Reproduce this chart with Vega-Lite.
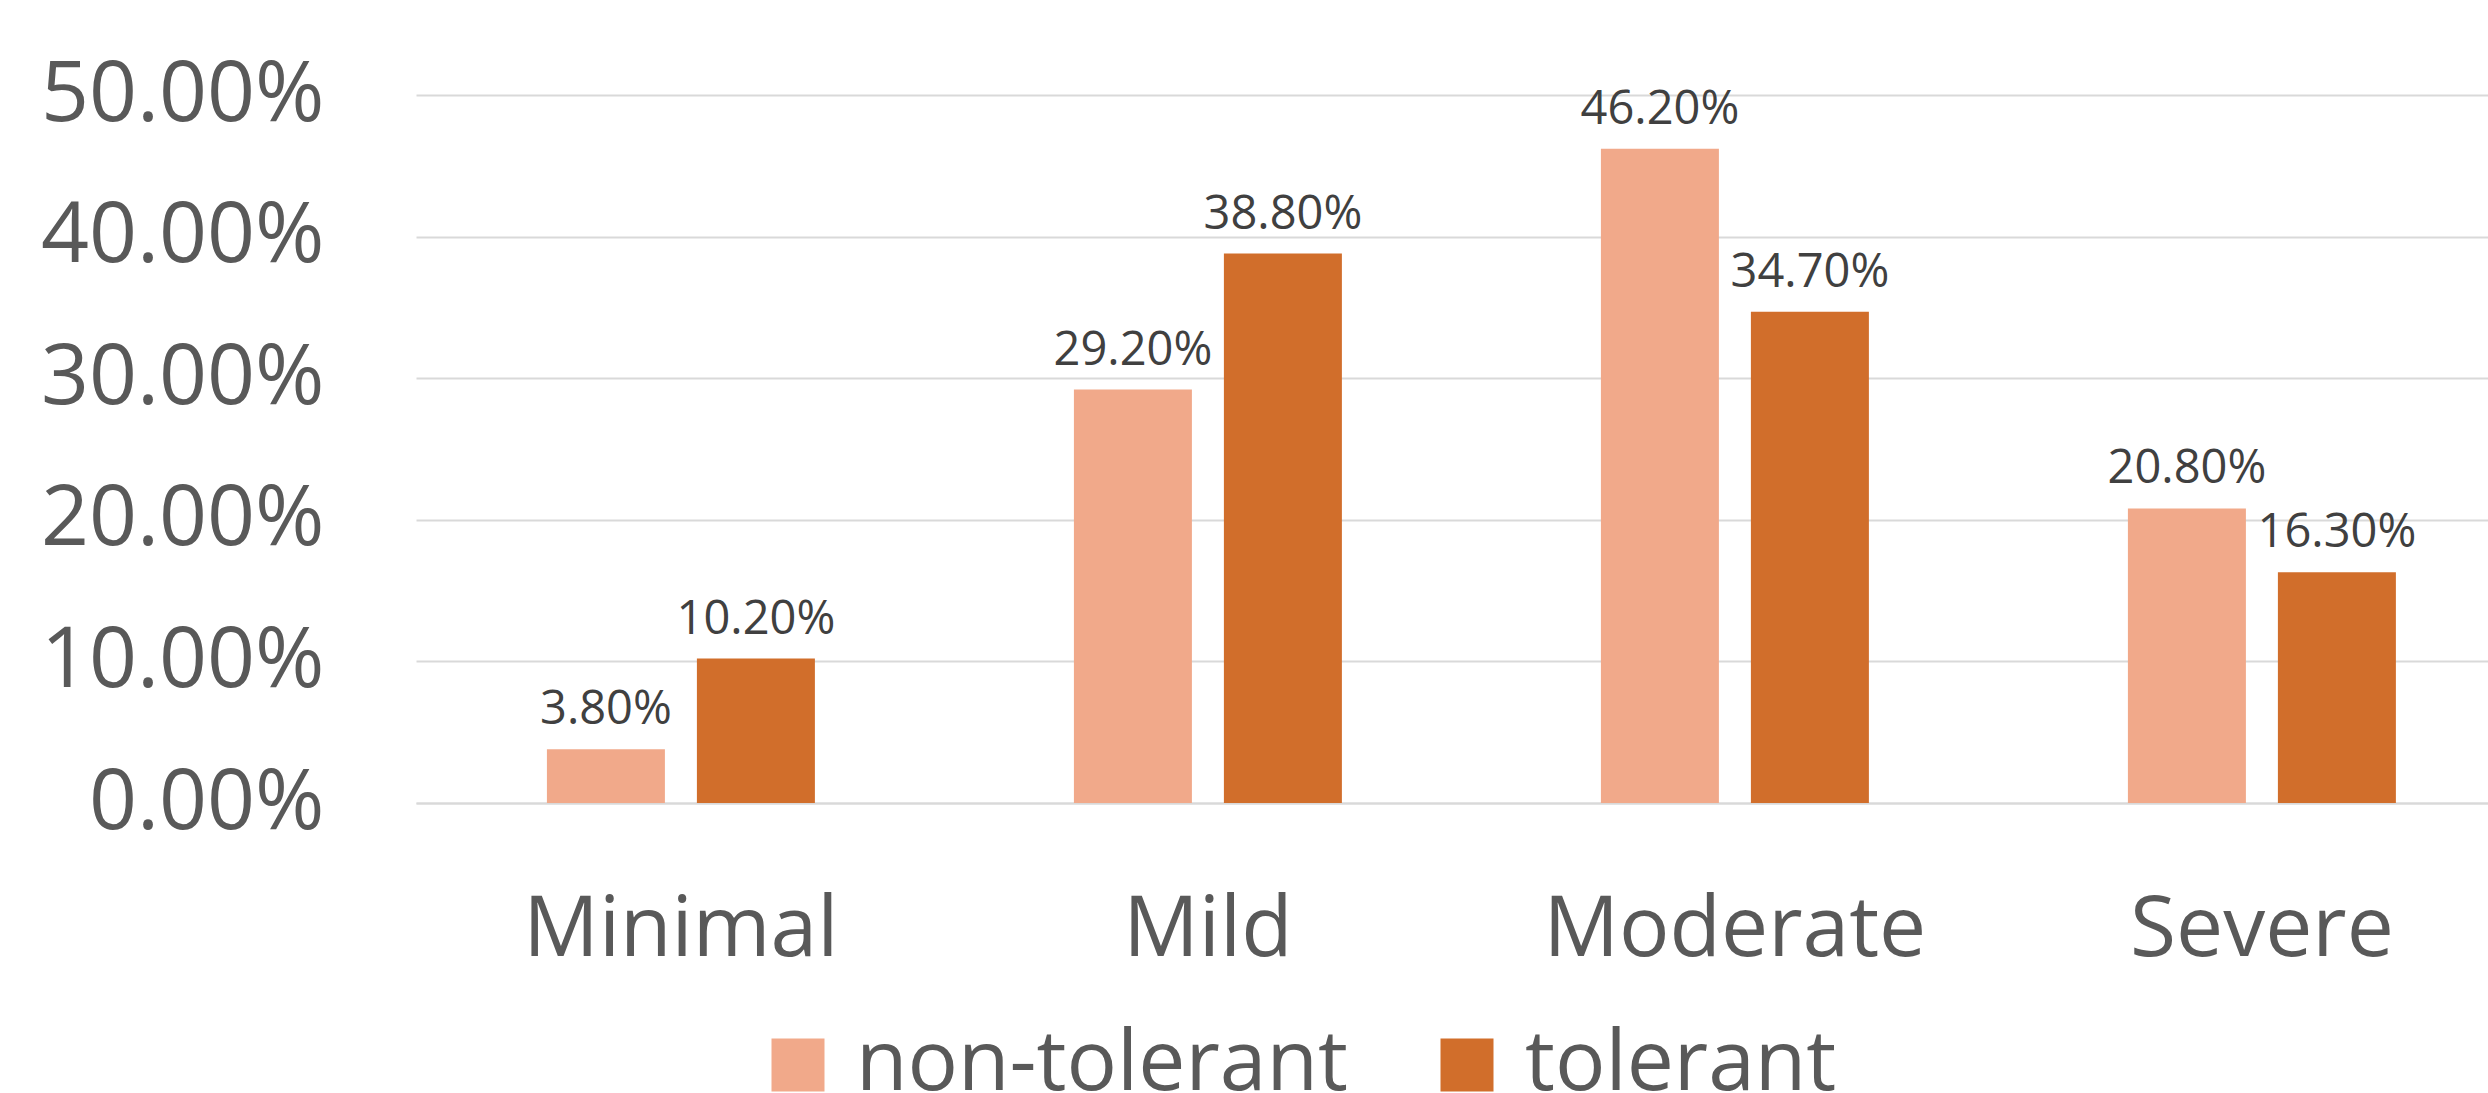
{
  "$schema": "https://vega.github.io/schema/vega-lite/v6.json",
  "autosize": {"type": "none"},
  "width": 2072,
  "height": 708,
  "padding": {"left": 416, "top": 95, "right": 0, "bottom": 290},
  "background": "white",
  "config": {"view": {"stroke": null}, "font": "Open Sans"},
  "data": {
    "values": [
      {"severity": "Minimal", "group": "non-tolerant", "value": 0.038},
      {"severity": "Minimal", "group": "tolerant", "value": 0.102},
      {"severity": "Mild", "group": "non-tolerant", "value": 0.292},
      {"severity": "Mild", "group": "tolerant", "value": 0.388},
      {"severity": "Moderate", "group": "non-tolerant", "value": 0.462},
      {"severity": "Moderate", "group": "tolerant", "value": 0.347},
      {"severity": "Severe", "group": "non-tolerant", "value": 0.208},
      {"severity": "Severe", "group": "tolerant", "value": 0.163}
    ]
  },
  "encoding": {
    "x": {
      "field": "severity",
      "type": "nominal",
      "sort": ["Minimal", "Mild", "Moderate", "Severe"],
      "scale": {"paddingInner": 0.4915, "paddingOuter": 0.2116, "align": 0.587},
      "axis": {
        "title": null,
        "labelAngle": 0,
        "labelFont": "Open Sans",
        "labelFontSize": 84,
        "labelColor": "#595959",
        "labelBaseline": "alphabetic",
        "labelPadding": 152,
        "labelLimit": 2000,
        "ticks": false,
        "tickSize": 0,
        "domainColor": "#d9d9d9",
        "domainWidth": 2
      }
    },
    "xOffset": {
      "field": "group",
      "type": "nominal",
      "sort": ["non-tolerant", "tolerant"],
      "scale": {"paddingInner": 0.2133, "paddingOuter": 0}
    },
    "y": {
      "field": "value",
      "type": "quantitative",
      "scale": {"domain": [0, 0.5]},
      "axis": {
        "title": null,
        "values": [0, 0.1, 0.2, 0.3, 0.4, 0.5],
        "format": ".2%",
        "labelFont": "Open Sans",
        "labelFontSize": 84,
        "labelColor": "#595959",
        "labelPadding": 92,
        "labelLimit": 2000,
        "ticks": false,
        "tickSize": 0,
        "domain": false,
        "grid": true,
        "gridColor": "#d9d9d9",
        "gridWidth": 2
      }
    }
  },
  "layer": [
    {
      "mark": {"type": "bar"},
      "encoding": {
        "color": {
          "field": "group",
          "type": "nominal",
          "sort": ["non-tolerant", "tolerant"],
          "scale": {"domain": ["non-tolerant", "tolerant"], "range": ["#F1A98A", "#D16E2B"]},
          "legend": {
            "title": null,
            "orient": "none",
            "direction": "horizontal",
            "legendX": 340,
            "legendY": 928,
            "symbolType": "square",
            "symbolSize": 2809,
            "symbolStrokeWidth": 0,
            "symbolOpacity": 1,
            "labelFont": "Open Sans",
            "labelFontSize": 84,
            "labelColor": "#595959",
            "labelOffset": 16,
            "labelLimit": 1000,
            "columnPadding": 77,
            "padding": 0
          }
        }
      }
    },
    {
      "mark": {"type": "text", "baseline": "alphabetic", "dy": -25, "fontSize": 47, "color": "#404040", "font": "Open Sans"},
      "encoding": {
        "text": {"field": "value", "type": "quantitative", "format": ".2%"}
      }
    }
  ]
}
